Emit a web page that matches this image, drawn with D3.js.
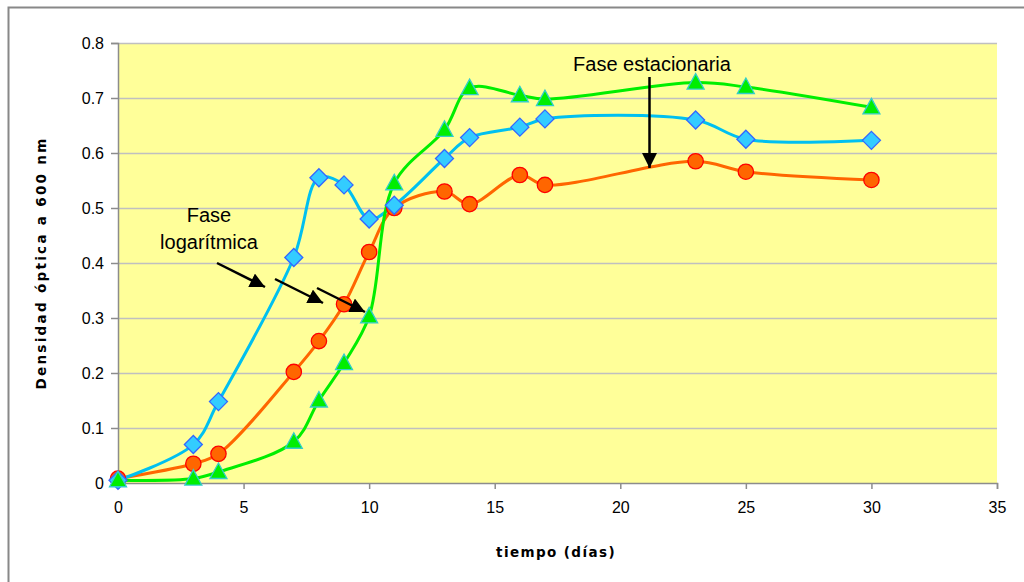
<!DOCTYPE html>
<html>
<head>
<meta charset="utf-8">
<script src="https://cdn.jsdelivr.net/npm/d3@7"></script>
<style>
  body { margin: 0; background: #fff; }
  svg { display: block; }
</style>
</head>
<body>
<svg width="1024" height="582"></svg>
<script>
const dias = [0, 3, 4, 7, 8, 9, 10, 11, 13, 14, 16, 17, 23, 25, 30];
const serieAzul = [0.005, 0.07, 0.148, 0.41, 0.555, 0.542, 0.48, 0.505, 0.59, 0.628, 0.647, 0.662, 0.66, 0.625, 0.623];
const serieNaranja = [0.008, 0.035, 0.053, 0.202, 0.258, 0.325, 0.42, 0.5, 0.53, 0.507, 0.56, 0.542, 0.585, 0.566, 0.551];
const serieVerde = [0.005, 0.008, 0.02, 0.075, 0.15, 0.218, 0.303, 0.545, 0.642, 0.718, 0.705, 0.698, 0.728, 0.72, 0.683];
const xTicks = [0, 5, 10, 15, 20, 25, 30, 35];
const yTicks = [0, 0.1, 0.2, 0.3, 0.4, 0.5, 0.6, 0.7, 0.8];

const svg = d3.select("svg");

// outer chart frame
svg.append("rect")
    .attr("x", 8.5).attr("y", 7.5)
    .attr("width", 1030).attr("height", 590)
    .attr("fill", "none")
    .attr("stroke", "#888").attr("stroke-width", 2);

const mLeft = 118, mTop = 43, w = 879, h = 440;
const g = svg.append("g").attr("transform", `translate(${mLeft},${mTop})`);

const x = d3.scaleLinear().domain([0, 35]).range([0, w]);
const y = d3.scaleLinear().domain([0, 0.8]).range([h, 0]);

g.append("rect").attr("width", w).attr("height", h).attr("fill", "#ffff99");

// grid
g.selectAll("line.grid")
    .data(yTicks.slice(1))
    .enter().append("line")
    .attr("class", "grid")
    .attr("x1", 0).attr("x2", w)
    .attr("y1", d => Math.round(y(d)) + 0.5).attr("y2", d => Math.round(y(d)) + 0.5)
    .attr("stroke", "#c0c0c0").attr("stroke-width", 1.5);

const xAxis = d3.axisBottom(x).tickValues(xTicks).tickSize(6).tickSizeOuter(6).tickFormat(d3.format("d"));
const yAxis = d3.axisLeft(y).tickValues(yTicks).tickSize(7).tickSizeOuter(7).tickFormat(d => d === 0 ? "0" : d3.format(".1f")(d));

const xAxisG = g.append("g").attr("transform", `translate(0,${h})`).call(xAxis);
const yAxisG = g.append("g").call(yAxis);
[xAxisG, yAxisG].forEach(a => {
    a.selectAll("path").attr("stroke", "#8c8c8c").attr("stroke-width", 1.5);
    a.selectAll("line").attr("stroke", "#8c8c8c").attr("stroke-width", 1.5);
    a.selectAll("text")
        .attr("fill", "#000")
        .style("font-family", "'Liberation Sans', Arial, sans-serif")
        .style("font-size", "16px");
});
xAxisG.selectAll("text").attr("y", 19).attr("dy", "0.71em");
yAxisG.selectAll("text").attr("x", -14).attr("dy", "0.32em");

// axis titles
svg.append("text")
    .attr("x", 556).attr("y", 557)
    .attr("text-anchor", "middle")
    .style("font-family", "'DejaVu Sans', sans-serif")
    .style("font-weight", "bold").style("font-size", "13.5px")
    .style("letter-spacing", "1.4px")
    .text("tiempo (días)");

svg.append("text")
    .attr("transform", "translate(46,263) rotate(-90)")
    .attr("text-anchor", "middle")
    .style("font-family", "'DejaVu Sans', sans-serif")
    .style("font-weight", "bold").style("font-size", "13.5px")
    .style("letter-spacing", "2.3px")
    .text("Densidad óptica a 600 nm");

// series
const series = [
    { valores: serieNaranja, linea: "#ff6600", relleno: "#ff6600", borde: "#ff0000", simbolo: "circulo" },
    { valores: serieAzul, linea: "#00c0f0", relleno: "#33ccff", borde: "#3366ff", simbolo: "rombo" },
    { valores: serieVerde, linea: "#00ee00", relleno: "#00ee00", borde: "#33cccc", simbolo: "triangulo" }
];

const line = d3.line()
    .x(d => x(d[0]))
    .y(d => y(d[1]))
    .curve(d3.curveCatmullRom.alpha(0.5));

series.forEach(s => {
    const pts = dias.map((d, i) => [d, s.valores[i]]);
    g.append("path")
        .datum(pts)
        .attr("d", line)
        .attr("fill", "none")
        .attr("stroke", s.linea)
        .attr("stroke-width", 3);
});

series.forEach(s => {
    const pts = dias.map((d, i) => [d, s.valores[i]]);
    const sel = g.append("g").selectAll("path").data(pts).enter().append("path")
        .attr("transform", d => `translate(${x(d[0])},${y(d[1])})`)
        .attr("fill", s.relleno)
        .attr("stroke", s.borde)
        .attr("stroke-width", 1.3);
    if (s.simbolo === "circulo") sel.attr("d", d3.symbol(d3.symbolCircle, 185)());
    if (s.simbolo === "rombo") sel.attr("d", "M0,-9L9,0L0,9L-9,0Z");
    if (s.simbolo === "triangulo") sel.attr("d", "M0,-9L8.5,6.5L-8.5,6.5Z");
});

// annotations
svg.append("defs").append("marker")
    .attr("id", "flecha")
    .attr("viewBox", "0 0 10 10")
    .attr("refX", 10).attr("refY", 5)
    .attr("markerWidth", 6).attr("markerHeight", 6)
    .attr("markerUnits", "strokeWidth")
    .attr("orient", "auto")
    .append("path").attr("d", "M0,0L10,5L0,10Z").attr("fill", "#000");

const notaFont = "'Liberation Sans', Arial, sans-serif";
svg.append("text").attr("x", 209).attr("y", 222).attr("text-anchor", "middle")
    .style("font-family", notaFont).style("font-size", "20px").text("Fase");
svg.append("text").attr("x", 209).attr("y", 249).attr("text-anchor", "middle")
    .style("font-family", notaFont).style("font-size", "20px").text("logarítmica");
svg.append("text").attr("x", 652).attr("y", 71).attr("text-anchor", "middle")
    .style("font-family", notaFont).style("font-size", "20px").text("Fase estacionaria");

const flechas = [
    [217, 263, 265, 287],
    [275, 279, 323, 303],
    [317, 288, 365, 312],
    [649.5, 77, 649.5, 168]
];
svg.selectAll("line.flecha").data(flechas).enter().append("line")
    .attr("class", "flecha")
    .attr("x1", d => d[0]).attr("y1", d => d[1])
    .attr("x2", d => d[2]).attr("y2", d => d[3])
    .attr("stroke", "#000").attr("stroke-width", 2.5)
    .attr("marker-end", "url(#flecha)");
</script>
</body>
</html>
